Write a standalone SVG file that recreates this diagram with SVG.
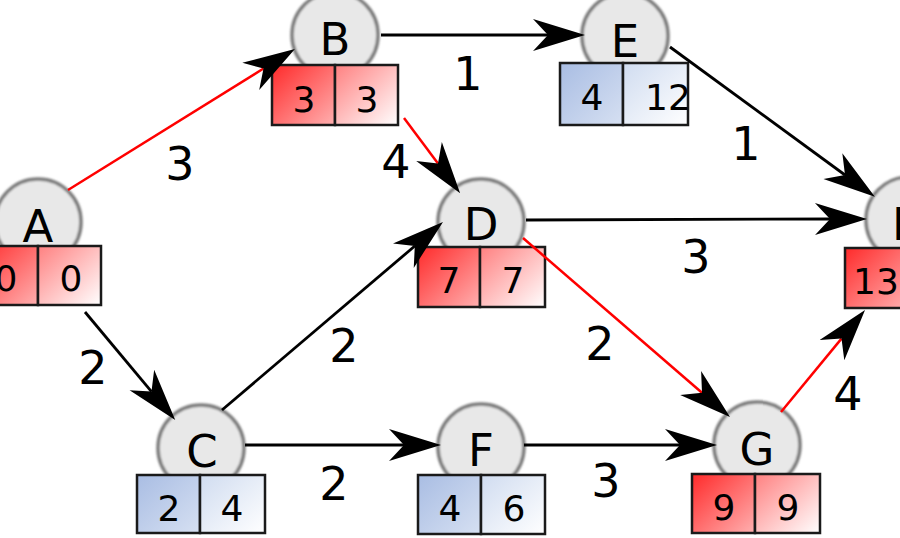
<svg xmlns="http://www.w3.org/2000/svg" width="900" height="538" viewBox="0 0 900 538">
<defs>
<style>
.circ{fill:#e8e8e8;stroke:#7a7a7a;stroke-width:3.5;filter:url(#soft)}
.box{stroke:#1a1a1a;stroke-width:2.5}
.lbl{font-family:"DejaVu Sans",sans-serif;font-size:45px;fill:#000;text-anchor:middle}
.num{font-family:"DejaVu Sans",sans-serif;font-size:36px;fill:#000;text-anchor:middle}
.w{font-family:"DejaVu Sans",sans-serif;font-size:46px;fill:#000;text-anchor:middle}
.e{fill:none;stroke:#000;stroke-width:2.8;marker-end:url(#ah)}
.r{fill:none;stroke:#f00;stroke-width:2.5;marker-end:url(#ah)}
</style>
<filter id="soft" x="-20%" y="-20%" width="140%" height="140%"><feGaussianBlur stdDeviation="1.3"/></filter>
<linearGradient id="redL" x1="0" y1="0" x2="1" y2="1"><stop offset="0" stop-color="#ff2a2a"/><stop offset="1" stop-color="#ffb0b0"/></linearGradient>
<linearGradient id="redR" x1="0" y1="0" x2="1" y2="1"><stop offset="0" stop-color="#ff8080"/><stop offset="1" stop-color="#ffffff"/></linearGradient>
<linearGradient id="blueL" x1="0" y1="0" x2="1" y2="1"><stop offset="0" stop-color="#a9bde3"/><stop offset="1" stop-color="#d6e0f2"/></linearGradient>
<linearGradient id="blueR" x1="0" y1="0" x2="1" y2="1"><stop offset="0" stop-color="#d0dcf0"/><stop offset="1" stop-color="#ffffff"/></linearGradient>
<marker id="ah" markerUnits="userSpaceOnUse" viewBox="-16 -17 54 34" refX="0" refY="0" markerWidth="54" markerHeight="34" orient="auto" overflow="visible">
<path d="M37,0 L-15,-16 L0,0 L-15,16 Z" fill="#000"/>
</marker>
</defs>

<g id="nodes">
<g id="A">
<circle class="circ" cx="38" cy="222" r="43"/>
<text class="lbl" x="38" y="242">A</text>
<rect class="box" x="-25" y="246" width="63" height="59" fill="url(#redL)"/>
<rect class="box" x="38" y="246" width="63" height="59" fill="url(#redR)"/>
<text class="num" x="6" y="291">0</text>
<text class="num" x="71" y="291">0</text>
</g>
<g id="B">
<circle class="circ" cx="335" cy="35" r="43"/>
<text class="lbl" x="335" y="55">B</text>
<rect class="box" x="272" y="65" width="63" height="60" fill="url(#redL)"/>
<rect class="box" x="335" y="65" width="63" height="60" fill="url(#redR)"/>
<text class="num" x="304" y="112">3</text>
<text class="num" x="367" y="112">3</text>
</g>
<g id="C">
<circle class="circ" cx="201" cy="448" r="43"/>
<text class="lbl" x="202" y="467">C</text>
<rect class="box" x="137" y="475" width="63" height="58" fill="url(#blueL)"/>
<rect class="box" x="200" y="475" width="65" height="58" fill="url(#blueR)"/>
<text class="num" x="169" y="521">2</text>
<text class="num" x="232" y="521">4</text>
</g>
<g id="D">
<circle class="circ" cx="481" cy="222" r="43"/>
<text class="lbl" x="481" y="240">D</text>
<rect class="box" x="418" y="247" width="62" height="60" fill="url(#redL)"/>
<rect class="box" x="480" y="247" width="65" height="60" fill="url(#redR)"/>
<text class="num" x="449" y="293">7</text>
<text class="num" x="513" y="293">7</text>
</g>
<g id="E">
<circle class="circ" cx="625" cy="36" r="43"/>
<text class="lbl" x="625" y="57">E</text>
<rect class="box" x="560" y="63" width="63" height="62" fill="url(#blueL)"/>
<rect class="box" x="623" y="63" width="65" height="62" fill="url(#blueR)"/>
<text class="num" x="592" y="110">4</text>
<text class="num" x="668" y="110">12</text>
</g>
<g id="F">
<circle class="circ" cx="481" cy="447" r="43"/>
<text class="lbl" x="481" y="466">F</text>
<rect class="box" x="418" y="475" width="63" height="59" fill="url(#blueL)"/>
<rect class="box" x="481" y="475" width="64" height="59" fill="url(#blueR)"/>
<text class="num" x="450" y="521">4</text>
<text class="num" x="514" y="521">6</text>
</g>
<g id="G">
<circle class="circ" cx="757" cy="445" r="43"/>
<text class="lbl" x="757" y="465">G</text>
<rect class="box" x="692" y="474" width="63" height="59" fill="url(#redL)"/>
<rect class="box" x="755" y="474" width="65" height="59" fill="url(#redR)"/>
<text class="num" x="724" y="520">9</text>
<text class="num" x="788" y="520">9</text>
</g>
<g id="H">
<circle class="circ" cx="909" cy="220" r="43"/>
<text class="lbl" x="909" y="240">H</text>
<rect class="box" x="845" y="248" width="63" height="60" fill="url(#redL)"/>
<rect class="box" x="908" y="248" width="63" height="60" fill="url(#redR)"/>
<text class="num" x="876" y="294">13</text>
<text class="num" x="940" y="294">13</text>
</g>
</g>

<g id="connectors">
<path class="r" d="M68,190 L263.5,68.5"/>
<path class="e" d="M381,35 L548,35"/>
<path class="e" d="M670,47 L845,175"/>
<path class="r" d="M404,118 L438,163.5"/>
<path class="e" d="M85,312 L151.5,391.6"/>
<path class="e" d="M222,410 L414.8,246"/>
<path class="e" d="M245,445 L404,445"/>
<path class="e" d="M526,220 L830,219"/>
<path class="r" d="M523,238 L702,392.8"/>
<path class="e" d="M524,445 L680,445"/>
<path class="r" d="M781,412 L841.5,338.6"/>
</g>

<g id="weights">
<text class="w" x="180" y="180">3</text>
<text class="w" x="468" y="90">1</text>
<text class="w" x="746" y="160">1</text>
<text class="w" x="396" y="178">4</text>
<text class="w" x="93" y="384">2</text>
<text class="w" x="344" y="362">2</text>
<text class="w" x="696" y="273">3</text>
<text class="w" x="600" y="360">2</text>
<text class="w" x="334" y="500">2</text>
<text class="w" x="606" y="497">3</text>
<text class="w" x="848" y="410">4</text>
</g>
</svg>
